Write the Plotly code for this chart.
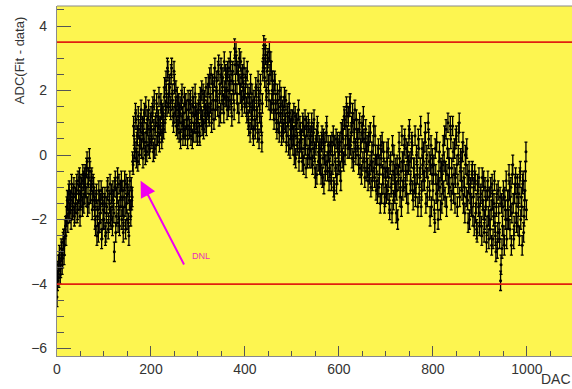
import plotly.graph_objects as go

# ADC residuals (Fit - data), even DAC codes 0..998
resid_even = [
    -4.4, -3.6, -3.8, -3.3, -3.5, -3.0, -3.2, -2.6, -2.8, -2.2,
    -1.9, -1.4, -1.7, -1.1, -1.5, -2.0, -1.3, -1.6, -1.0, -1.8,
    -1.5, -0.9, -1.7, -1.2, -0.7, -1.4, -1.0, -1.6, -0.8, -1.2,
    -0.6, -1.3, -0.2, -0.9, -1.5, -0.5, -1.1, -0.7, -1.4, -1.0,
    -1.6, -2.2, -1.2, -1.9, -2.4, -1.4, -1.8, -1.1, -2.3, -1.7,
    -2.0, -1.3, -2.4, -1.6, -1.0, -2.1, -1.5, -1.9, -1.2, -2.2,
    -1.4, -3.0, -0.8, -1.9, -1.2, -2.1, -0.9, -1.6, -1.3, -2.0,
    -1.1, -1.9, -0.8, -2.3, -1.5, -1.0, -2.1, -1.4, -1.7, -1.0,
    -1.3, -0.3, 0.6, 0.1, 1.1, 0.4, -0.2, 0.8, 0.3, 1.0,
    0.2, 0.9, 0.5, 1.3, 0.0, 0.7, 1.1, 0.3, 0.8, 0.4,
    1.2, 0.5, 1.5, 0.8, 0.2, 1.0, 1.6, 0.6, 1.1, 0.4,
    0.9, 1.4, 0.7, 1.2, 1.8, 1.0, 2.3, 1.5, 2.6, 1.9,
    2.1, 1.4, 2.7, 1.7, 1.0, 2.2, 1.5, 0.9, 1.8, 1.2,
    0.7, 1.5, 1.0, 1.9, 0.6, 1.3, 0.8, 1.6, 1.1, 0.5,
    1.4, 0.8, 1.7, 1.0, 0.5, 1.5, 1.2, 1.9, 0.7, 1.3,
    1.0, 1.6, 0.6, 1.4, 2.0, 1.1, 0.8, 1.7, 1.3, 0.9,
    1.5, 2.2, 1.2, 1.8, 2.5, 1.4, 2.0, 1.1, 2.7, 1.7,
    2.3, 1.5, 2.8, 1.9, 1.3, 2.5, 2.1, 1.6, 2.9, 1.8,
    2.4, 1.4, 2.0, 2.7, 1.7, 2.3, 1.2, 2.6, 1.9, 3.3,
    2.2, 2.8, 1.6, 2.5, 3.0, 1.9, 2.4, 1.5, 2.1, 2.7,
    1.8, 2.4, 1.3, 1.9, 0.9, 1.6, 2.2, 1.1, 1.4, 0.6,
    1.5, 0.8, 1.9, 1.2, 2.3, 0.5, 1.7, 1.0, 0.4, 2.6,
    3.4, 2.4, 3.1, 1.8, 2.9, 2.2, 3.2, 1.4, 2.6, 2.0,
    1.9, 1.1, 2.2, 1.4, 0.8, 1.7, 1.0, 2.0, 1.3, 0.6,
    1.4, 0.7, 1.8, 1.0, 0.4, 1.3, 0.9, 1.6, 0.2, 1.1,
    0.9, 0.3, 1.3, 0.6, -0.1, 1.0, 0.4, 1.4, 0.2, 0.7,
    0.5, -0.2, 0.9, 0.2, 1.1, -0.4, 0.6, 0.0, 0.8, -0.1,
    0.4, 1.0, -0.3, 0.7, 0.1, -0.7, 0.5, 0.9, -0.2, 0.3,
    0.2, -0.6, 0.6, -0.1, -0.9, 0.4, -0.3, 0.9, -0.5, 0.1,
    -0.4, 0.3, -0.8, 0.0, 0.6, -1.1, -0.2, 0.5, -0.6, 0.2,
    -0.3, 0.4, -0.8, 0.1, 0.8, -0.2, 1.1, 0.3, 1.5, 0.6,
    1.2, 0.2, 1.6, 0.7, -0.1, 1.0, 0.4, 1.4, 0.0, 0.8,
    0.5, -0.3, 1.0, 0.2, -0.6, 0.7, 1.2, -0.1, 0.4, -0.5,
    0.3, -0.8, 0.6, -0.3, -1.0, 0.1, -0.5, 0.9, -0.7, 0.0,
    -0.3, -1.2, 0.2, -0.6, -1.5, -0.1, 0.4, -0.9, -0.4, -1.3,
    -0.5, 0.1, -1.1, -0.7, -1.7, -0.2, -0.9, 0.3, -1.4, -0.6,
    -1.0, -1.8, -0.3, -0.8, 0.4, -1.3, -0.5, 0.6, -1.1, -0.2,
    0.5, -0.6, -1.2, 0.1, -0.3, 0.8, -0.9, -0.1, 0.3, -1.4,
    -0.4, 0.6, -0.9, -0.2, -1.6, 0.2, -0.7, 0.9, -1.1, -0.3,
    0.1, -0.8, 0.7, -0.4, -1.3, 1.0, -0.2, -1.9, 0.3, -0.6,
    -1.1, -0.3, -2.1, -0.6, 0.4, -1.4, -0.8, 0.1, -1.7, -0.5,
    -0.9, 0.3, -0.2, -1.3, 0.8, -0.6, 1.0, -0.1, -1.0, 0.5,
    -0.4, 0.9, -1.2, 0.2, -0.7, 0.6, -1.6, 0.0, 1.0, -0.5,
    -0.2, -1.1, 0.4, -0.7, -1.8, -0.3, 0.2, -1.4, -0.9, -2.0,
    -1.0, -1.6, -0.5, -1.3, -2.2, -0.8, -1.5, -2.4, -1.1, -0.7,
    -1.8, -1.2, -2.5, -1.4, -0.8, -2.0, -1.6, -2.7, -1.1, -1.9,
    -1.3, -2.3, -1.7, -0.9, -2.6, -1.5, -2.1, -3.0, -1.2, -2.4,
    -1.8, -2.6, -3.9, -1.5, -2.2, -1.1, -2.8, -1.7, -0.8, -2.0,
    -1.4, -0.6, -2.3, -1.0, -1.8, -0.3, -2.6, -1.2, -0.7, -2.1,
    -0.9, -1.6, -2.5, -0.5, -1.3, -2.8, -0.8, -1.9, -1.1, 0.1,
]

# odd DAC codes 1..999
resid_odd = [
    -3.9, -3.4, -3.1, -3.7, -2.9, -3.4, -2.7, -3.1, -2.3, -2.5,
    -1.6, -2.1, -1.2, -1.8, -1.4, -0.9, -1.7, -1.2, -1.9, -1.3,
    -1.1, -1.8, -0.8, -1.4, -1.9, -0.9, -1.3, -0.6, -1.5, -0.7,
    -1.0, -0.4, -1.6, -0.7, -0.1, -1.2, -0.8, -1.7, -0.9, -1.3,
    -2.0, -1.4, -2.5, -1.7, -1.1, -2.1, -1.5, -2.6, -1.3, -2.0,
    -1.5, -2.5, -1.8, -1.1, -2.3, -1.4, -0.9, -2.0, -1.6, -1.1,
    -1.8, -1.0, -2.4, -1.3, -0.7, -1.7, -2.2, -1.1, -0.8, -1.6,
    -2.4, -1.3, -1.6, -0.9, -2.0, -1.2, -2.5, -0.8, -1.9, -1.4,
    -0.2, 0.9, 0.2, 1.3, -0.1, 0.6, 1.2, 0.0, 0.5, 1.4,
    0.7, -0.1, 1.1, 0.4, 1.5, 0.1, 0.9, 1.4, 0.2, 1.0,
    0.6, 1.3, 0.1, 1.7, 0.9, 0.3, 1.2, 0.7, 1.8, 0.9,
    1.6, 0.5, 1.3, 0.8, 2.1, 1.4, 1.9, 2.7, 1.6, 2.2,
    1.5, 2.5, 1.9, 1.2, 2.6, 1.3, 2.0, 1.4, 0.8, 1.6,
    1.3, 0.5, 1.7, 1.2, 0.8, 1.8, 0.6, 1.4, 0.9, 1.7,
    0.9, 1.6, 0.6, 1.3, 1.8, 0.7, 1.0, 1.5, 1.1, 0.6,
    1.4, 0.7, 1.8, 1.2, 0.9, 1.9, 1.5, 1.0, 2.1, 1.4,
    1.9, 1.3, 2.4, 1.6, 1.0, 2.2, 1.7, 2.4, 1.4, 2.1,
    1.7, 2.6, 1.2, 2.2, 2.7, 1.7, 2.4, 1.3, 2.0, 2.5,
    1.8, 2.6, 1.5, 2.2, 2.9, 1.6, 2.5, 2.0, 1.4, 2.8,
    3.2, 1.9, 2.6, 1.3, 2.2, 2.9, 1.7, 2.5, 2.0, 1.6,
    2.2, 1.5, 2.6, 1.1, 1.8, 0.7, 1.5, 1.9, 0.8, 1.7,
    1.1, 2.1, 1.4, 0.7, 1.8, 1.3, 2.2, 0.9, 1.6, 3.0,
    2.7, 3.3, 2.0, 2.6, 3.0, 1.7, 2.5, 2.9, 1.6, 2.3,
    1.4, 2.3, 1.6, 1.0, 1.9, 1.3, 0.7, 1.5, 1.8, 1.0,
    0.8, 1.5, 1.1, 1.7, 0.6, 1.2, 0.3, 1.3, 0.8, 0.5,
    1.1, 0.6, 0.0, 1.2, 0.8, 0.3, 1.1, -0.2, 0.9, 0.4,
    0.2, 1.0, -0.3, 0.6, 0.3, 0.9, -0.1, 1.0, 0.2, 0.6,
    -0.1, 0.6, 0.2, 1.1, -0.4, 0.3, -0.6, 0.7, 0.1, -0.3,
    -0.3, 0.4, -0.7, 0.5, 0.0, -0.5, 0.7, -0.2, 0.3, -0.8,
    0.1, -0.6, 0.4, -0.3, -1.0, 0.3, -0.4, -0.9, 0.4, -0.2,
    0.3, -0.5, 0.7, -0.1, 0.5, 1.2, 0.0, 0.9, 1.3, 0.2,
    0.5, 1.5, 0.3, 0.9, 1.3, -0.2, 0.8, 0.2, 1.1, 0.4,
    0.0, 0.8, -0.4, 0.4, 0.9, -0.2, 0.5, -0.7, 0.8, 0.1,
    -0.4, 0.4, -0.6, 0.7, -0.2, -0.8, 0.3, -0.4, 0.6, -1.1,
    -0.8, 0.0, -1.0, -0.3, 0.3, -1.2, -0.6, 0.1, -1.5, -0.7,
    -1.2, -0.4, 0.2, -1.5, -0.3, -1.0, -1.8, -0.5, 0.0, -1.2,
    -0.4, -1.1, -2.0, -0.6, -0.1, -1.0, -1.6, -0.2, -0.8, 0.3,
    -1.0, 0.2, -0.5, -1.5, 0.6, -0.2, -0.8, 0.4, -1.1, -0.4,
    -0.9, -1.3, 0.0, -0.6, 0.5, -1.2, -0.4, -1.6, 0.2, -0.8,
    -0.5, 0.4, -1.5, 0.0, -0.7, 0.5, -1.1, -0.3, -1.6, -0.1,
    -0.6, -1.7, 0.2, -1.2, -0.9, -2.0, -0.2, -1.0, -0.4, -1.5,
    -0.3, -1.1, 0.6, -0.5, -1.6, 0.2, -0.9, -0.4, 0.9, -1.4,
    -0.9, 0.1, -0.6, -1.5, 0.5, -0.3, -0.9, 0.7, -1.3, -0.1,
    -0.8, 0.1, -1.5, -1.0, 0.0, -1.3, -0.6, -2.1, -0.5, -1.2,
    -1.5, -0.6, -1.9, -1.0, -0.6, -1.8, -2.3, -0.9, -1.6, -2.2,
    -1.3, -2.2, -0.7, -1.7, -2.4, -1.0, -1.4, -2.2, -0.8, -2.6,
    -2.0, -1.0, -2.8, -1.4, -1.9, -0.8, -2.5, -1.6, -2.9, -1.1,
    -2.4, -1.3, -3.4, -2.9, -1.6, -2.5, -1.3, -2.0, -2.6, -1.4,
    -2.0, -1.1, -1.6, -2.8, -0.6, -1.5, -2.2, -0.9, -1.8, -1.3,
    -2.2, -1.2, -0.7, -2.0, -1.6, -0.9, -2.4, -1.4, -0.5, -1.7,
]

dac_even = [2 * i for i in range(len(resid_even))]
dac_odd = [2 * i + 1 for i in range(len(resid_odd))]
resid_err = 0.3

limit_hi = 3.5
limit_lo = -4.0

arrow_tip = (178, -0.8)
arrow_tail = (272, -3.44)
dnl_label = "DNL"
dnl_pos = (284, -3.13)

x_range = [0, 1096]
y_range = [-6.23, 4.62]
x_ticks = [0, 200, 400, 600, 800, 1000]
y_ticks = [-6, -4, -2, 0, 2, 4]

fig = go.Figure()
for xs, ys in ((dac_even, resid_even), (dac_odd, resid_odd)):
    fig.add_trace(go.Scatter(
        x=xs, y=ys, mode="markers",
        marker=dict(color="black", size=3),
        error_y=dict(type="constant", value=resid_err, color="black", thickness=1.3, width=1.5),
        showlegend=False, hoverinfo="skip",
    ))

for lv in (limit_hi, limit_lo):
    fig.add_shape(type="line", xref="paper", x0=0, x1=1, yref="y", y0=lv, y1=lv,
                  line=dict(color="#e0200f", width=1.8), layer="above")

# top frame
fig.add_shape(type="line", xref="paper", x0=0, x1=1, yref="paper", y0=1, y1=1,
              line=dict(color="#8a8a8a", width=1.2))

fig.add_annotation(x=arrow_tip[0], y=arrow_tip[1], ax=arrow_tail[0], ay=arrow_tail[1],
                   xref="x", yref="y", axref="x", ayref="y", text="",
                   showarrow=True, arrowhead=2, arrowsize=1.6, arrowwidth=2,
                   arrowcolor="#f000f0")
fig.add_annotation(x=dnl_pos[0], y=dnl_pos[1], xref="x", yref="y", text=dnl_label,
                   showarrow=False, xanchor="left", yanchor="middle",
                   font=dict(family="Liberation Sans, Arial, sans-serif", size=9, color="#e830b8"))

fig.add_annotation(x=-0.074, y=0.975, xref="paper", yref="paper", text="ADC(Fit - data)",
                   textangle=-90, showarrow=False, xanchor="center", yanchor="top",
                   font=dict(family="Liberation Sans, Arial, sans-serif", size=13, color="#333333"))
fig.add_annotation(x=0.935, y=-0.066, xref="paper", yref="paper", text="DAC",
                   showarrow=False, xanchor="left", yanchor="middle",
                   font=dict(family="Liberation Sans, Arial, sans-serif", size=14, color="#333333"))

axis_font = dict(family="Liberation Sans, Arial, sans-serif", size=14, color="#333333")
fig.update_xaxes(range=x_range, tickvals=x_ticks, ticks="inside", ticklen=10, tickwidth=1,
                 tickcolor="#555555", showline=True, linecolor="#8a8a8a", linewidth=1.2,
                 showgrid=False, zeroline=False, tickfont=axis_font, automargin=False,
                 minor=dict(dtick=50, ticks="inside", ticklen=5, tickcolor="#555555", showgrid=False))
fig.update_yaxes(range=y_range, tickvals=y_ticks, ticks="inside", ticklen=14, tickwidth=1,
                 tickcolor="#555555", showline=True, linecolor="#8a8a8a", linewidth=1.2,
                 showgrid=False, zeroline=False, tickfont=axis_font, ticklabelstandoff=6,
                 automargin=False,
                 minor=dict(dtick=0.5, ticks="inside", ticklen=7, tickcolor="#555555", showgrid=False))

fig.update_layout(
    width=572, height=389,
    margin=dict(l=57, r=0, t=6, b=33),
    plot_bgcolor="#fdf550", paper_bgcolor="white",
    showlegend=False,
)

fig.write_html("out.html", config={"displayModeBar": False},
               post_script="document.body.style.margin='0';document.body.style.overflow='hidden';")
